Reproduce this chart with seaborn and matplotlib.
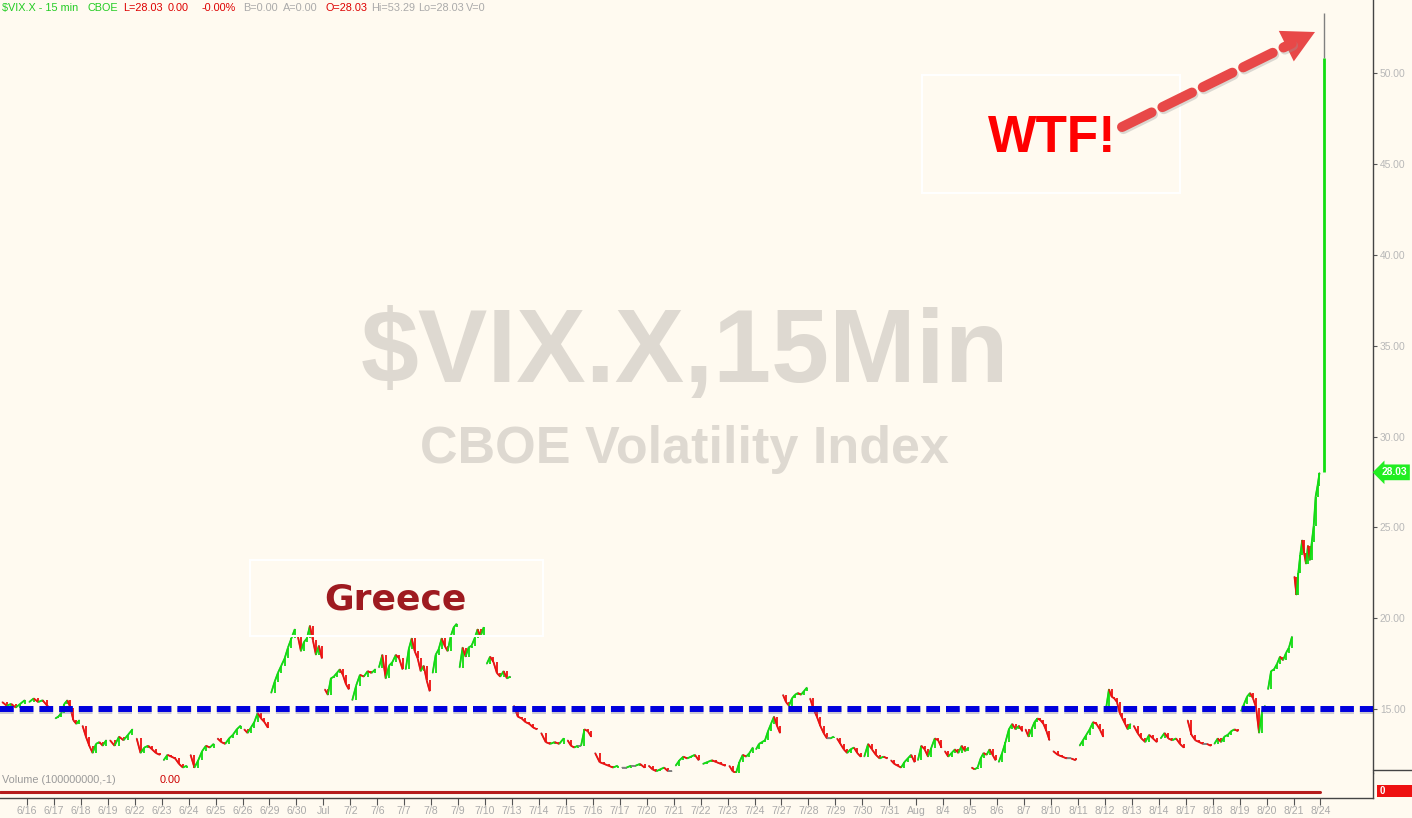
import matplotlib
matplotlib.use("Agg")
import matplotlib.pyplot as plt
import matplotlib.patheffects as pe
import numpy as np
import pandas as pd
import seaborn as sns
from matplotlib.collections import LineCollection
from matplotlib.lines import Line2D
from matplotlib.patches import Polygon, Rectangle
from matplotlib.ticker import FormatStrFormatter

# sessions on the axis, the first one (6/15) is the partial session at the left edge
day_labels = ["", "6/16", "6/17", "6/18", "6/19", "6/22", "6/23", "6/24", "6/25", "6/26",
              "6/29", "6/30", "Jul", "7/2", "7/6", "7/7", "7/8", "7/9", "7/10", "7/13",
              "7/14", "7/15", "7/16", "7/17", "7/20", "7/21", "7/22", "7/23", "7/24",
              "7/27", "7/28", "7/29", "7/30", "7/31", "Aug", "8/4", "8/5", "8/6", "8/7",
              "8/10", "8/11", "8/12", "8/13", "8/14", "8/17", "8/18", "8/19", "8/20",
              "8/21", "8/24"]

# 15 min closes, one list per session (6/15 .. 8/21)
vix_sessions = [
    [15.4, 15.2, 15.3, 15.1, 15.3, 15.5],
    [15.4, 15.6, 15.4, 15.5, 15.2, 15.0],
    [14.5, 14.6, 14.8, 15.3, 15.5, 15.1, 14.4, 14.2, 14.4],
    [14.1, 13.5, 13.0, 12.6, 13.1, 13.2, 13.0, 13.3],
    [13.3, 13.0, 13.5, 13.3, 13.6, 13.9],
    [13.4, 12.6, 12.9, 13.0, 12.8, 12.6, 12.5],
    [12.2, 12.5, 12.4, 12.3, 12.0, 11.8, 11.9],
    [12.5, 11.8, 12.2, 12.7, 13.0, 12.9, 13.1],
    [13.4, 13.2, 13.1, 13.4, 13.6, 13.9, 14.1],
    [13.9, 13.7, 14.0, 14.3, 14.8, 14.5, 14.3, 14.0],
    [15.9, 16.5, 17.0, 17.4, 17.8, 18.4, 18.9, 19.4],
    [19.0, 18.2, 18.7, 18.9, 19.6, 18.8, 18.0, 18.5, 17.8],
    [16.1, 15.8, 16.7, 16.8, 17.0, 17.2, 16.9, 16.4, 16.1],
    [15.5, 16.3, 16.9, 16.8, 17.1, 17.0, 17.2],
    [17.3, 18.0, 16.7, 17.4, 17.6, 18.0, 17.8, 17.2],
    [17.2, 18.3, 18.9, 18.2, 17.8, 17.1, 17.4, 16.6, 16.0],
    [17.0, 18.0, 18.3, 18.9, 18.5, 18.2, 19.0, 19.5, 19.7],
    [17.3, 18.4, 17.9, 18.4, 18.5, 18.9, 19.4, 19.0, 19.5],
    [17.5, 17.9, 17.6, 17.0, 16.8, 17.1, 16.7, 16.8],
    [15.2, 14.6, 14.5, 14.3, 14.2, 14.0, 13.9],
    [13.7, 13.2, 13.1, 13.2, 13.1, 13.4],
    [13.3, 13.0, 12.9, 13.0, 13.0, 13.9, 13.8, 13.5],
    [12.6, 12.1, 12.0, 11.9, 11.8, 11.9],
    [11.8, 11.8, 11.9, 11.9, 12.0, 11.8],
    [11.9, 11.7, 11.6, 11.7, 11.8, 11.6, 11.6],
    [11.9, 12.2, 12.4, 12.3, 12.4, 12.5, 12.2],
    [12.0, 12.1, 12.2, 12.1, 12.0, 11.9],
    [11.9, 11.6, 11.5, 12.1, 12.5, 12.4, 12.6, 12.9],
    [12.8, 13.1, 13.2, 13.3, 13.8, 14.2, 14.6, 14.1, 13.7],
    [15.8, 15.4, 15.2, 15.6, 15.8, 15.9, 15.8, 16.0, 16.2],
    [15.6, 15.0, 14.6, 14.1, 13.7, 13.4, 13.4, 13.5],
    [13.4, 13.1, 12.8, 12.6, 12.8, 12.9, 12.6, 12.4],
    [12.4, 13.1, 12.8, 12.5, 12.3, 12.4, 12.3],
    [12.2, 12.0, 11.9, 11.8, 12.1, 12.3, 12.5, 12.1],
    [12.2, 13.0, 12.8, 12.4, 12.9, 13.4, 13.3, 12.9],
    [12.7, 12.4, 12.6, 12.8, 12.6, 13.0, 12.7, 12.9],
    [11.8, 11.7, 11.8, 12.3, 12.6, 12.5, 12.8, 12.5, 12.2],
    [12.1, 12.6, 13.2, 13.9, 14.2, 13.9, 14.1, 13.8],
    [13.9, 13.5, 13.9, 14.3, 14.5, 14.4, 14.2, 13.8, 13.3],
    [12.7, 12.5, 12.4, 12.3, 12.3, 12.2],
    [13.0, 13.3, 13.6, 13.9, 14.3, 14.2, 13.9, 13.5],
    [15.1, 16.1, 15.7, 15.6, 15.4, 14.8, 14.5, 14.2, 13.9, 14.2],
    [14.1, 13.7, 13.4, 13.2, 13.6, 13.4, 13.2],
    [13.4, 13.7, 13.4, 13.3, 13.4, 13.1, 12.9],
    [14.4, 13.6, 13.3, 13.2, 13.1, 13.1, 13.0],
    [13.1, 13.4, 13.2, 13.5, 13.6, 13.8, 13.9, 13.8],
    [14.9, 15.3, 15.7, 15.9, 15.6, 15.1, 13.7, 14.9, 15.2],
    [16.1, 17.1, 17.2, 17.5, 17.9, 17.7, 18.1, 18.4, 19.0],
    [22.3, 21.3, 22.5, 23.5, 24.3, 23.6, 23.0, 24.0, 23.2, 24.2, 25.1, 26.7, 27.3, 28.0],
]

# the 8/24 opening bar
last_open = 28.03
last_close = 50.8
last_high = 53.29
last_value = 28.03

support_level = 15.0
volume = [0.0] * len(day_labels)
ytick_values = [15, 20, 25, 30, 35, 40, 45, 50]

header = [("$VIX.X - 15 min", 2, "#22cc22"), ("CBOE", 87, "#22cc22"),
          ("L=28.03", 123, "#dd0000"), ("0.00", 168, "#dd0000"),
          ("-0.00%", 202, "#dd0000"), ("B=0.00", 243, "#aaaaaa"),
          ("A=0.00", 283, "#aaaaaa"), ("O=28.03", 325, "#dd0000"),
          ("Hi=53.29", 371, "#aaaaaa"), ("Lo=28.03", 418, "#aaaaaa"),
          ("V=0", 466, "#aaaaaa")]

BG = "#fffaf0"
GREEN = "#11dd11"
RED = "#ee1111"
GREY = "#808080"

sns.set_theme(style="white", rc={"axes.facecolor": BG, "figure.facecolor": BG})
plt.rcParams["font.family"] = ["Liberation Sans", "DejaVu Sans"]

W, H = 1412, 818


def fx(px):
    return px / W


def fy(py):
    return 1 - py / H


rows = []
for i, closes in enumerate(vix_sessions):
    d = i - 1
    n = len(closes)
    for k, v in enumerate(closes):
        rows.append((d, d + (k + 0.5) / n, v))
df = pd.DataFrame(rows, columns=["day", "x", "vix"])

fig = plt.figure(figsize=(W / 100, H / 100), dpi=100)
ax = fig.add_axes([0, fy(773), fx(1373), 773 / H])
axv = fig.add_axes([0, fy(798), fx(1373), 25 / H], sharex=ax)

# watermark
ax.text(fx(685), fy(356), "$VIX.X,15Min", transform=fig.transFigure, ha="center",
        va="center", fontsize=75, fontweight="bold", color="#ded9d1", zorder=0)
ax.text(fx(684), fy(449), "CBOE Volatility Index", transform=fig.transFigure,
        ha="center", va="center", fontsize=37.5, fontweight="bold", color="#ded9d1",
        zorder=0)

# price: grey base line, then up / down segments coloured like candles
sns.lineplot(data=df, x="x", y="vix", units="day", estimator=None, color=GREY,
             lw=1.0, ax=ax, zorder=2)
segs, cols = [], []
for d, g in df.groupby("day"):
    xs = g["x"].values
    vs = g["vix"].values
    for k in range(1, len(vs)):
        segs.append([(xs[k - 1], vs[k - 1]), (xs[k], vs[k])])
        diff = vs[k] - vs[k - 1]
        cols.append(GREEN if diff > 0.05 else (RED if diff < -0.05 else GREY))
    ax.vlines(xs[1:], np.minimum(vs[:-1], vs[1:]), np.maximum(vs[:-1], vs[1:]),
              colors=[c for c in cols[-(len(vs) - 1):]], lw=1.3, zorder=3)
ax.add_collection(LineCollection(segs, colors=cols, lw=1.3, zorder=3))
last_x = len(vix_sessions) - 1 + 0.15
ax.vlines(last_x, last_close, last_high, colors=GREY, lw=1.0, zorder=3)
ax.vlines(last_x, last_open, last_close, colors=GREEN, lw=2.0, zorder=3)

# blue dashed level
ax.axhline(support_level, color="#0000dd", lw=4.3, dashes=(2.3, 1.0), zorder=4,
           path_effects=[pe.SimpleLineShadow(offset=(0, -1.5), shadow_color="#7070a0",
                                             alpha=0.35), pe.Normal()])

ax.set_xlim(-1.0, 49.95)
ax.set_ylim(11.5, 54.0)
ax.set_xlabel("")
ax.set_ylabel("")
ax.yaxis.tick_right()
ax.set_yticks(ytick_values)
ax.yaxis.set_major_formatter(FormatStrFormatter("%.2f"))
ax.tick_params(axis="y", which="both", right=True, length=3, width=0.8, color="#555555",
               labelsize=7.4, labelcolor="#b8b8b8", pad=2)
ax.tick_params(axis="x", bottom=False, labelbottom=False)
for s in ["top", "left", "bottom"]:
    ax.spines[s].set_visible(False)
ax.spines["right"].set_color("#444444")
ax.spines["right"].set_linewidth(1.0)

# last value tag
ax.annotate(f"{last_value:.2f}", xy=(1.0, last_value), xycoords=("axes fraction", "data"),
            xytext=(6, 0), textcoords="offset points", ha="left", va="center",
            fontsize=7.4, fontweight="bold", color="white",
            bbox=dict(boxstyle="larrow,pad=0.28", fc="#22ee22", ec="none"))

# volume panel
sns.lineplot(x=list(range(-1, len(day_labels) - 1)), y=volume, color="#b51c1c", lw=2.2,
             ax=axv)
axv.set_ylim(-0.3, 0.95)
axv.set_yticks([])
axv.set_xticks(range(0, len(day_labels) - 1))
axv.set_xticklabels(day_labels[1:])
axv.tick_params(axis="x", bottom=True, length=5, width=0.8, color="#555555",
                labelsize=7.6, labelcolor="#aaaaaa", pad=0.5, direction="out")
for s in ["top", "left"]:
    axv.spines[s].set_visible(False)
axv.spines["bottom"].set_color("#444444")
axv.spines["bottom"].set_linewidth(1.0)
axv.spines["right"].set_color("#444444")
axv.spines["right"].set_linewidth(1.0)
axv.set_xlabel("")
axv.set_ylabel("")
axv.set_xlim(-1.0, 49.95)

fig.text(fx(2), fy(780), "Volume (100000000,-1)", fontsize=7.8, color="#9a9a9a",
         va="center", ha="left")
fig.text(fx(160), fy(780), "0.00", fontsize=7.8, color="#cc0000", va="center", ha="left")
fig.add_artist(Line2D([fx(1373), 1], [fy(770), fy(770)], color="#444444", lw=1.0))
fig.add_artist(Rectangle((fx(1377), fy(797)), fx(35), 12 / H, transform=fig.transFigure,
                         fc="#ee1111", ec="none"))
fig.text(fx(1380), fy(791), "0", fontsize=7, fontweight="bold", color="white",
         va="center", ha="left")

# header line
for txt, xp, col in header:
    fig.text(fx(xp), fy(8), txt, fontsize=7.8, color=col, va="center", ha="left")

# annotation boxes
for (x0, y0, x1, y1) in [(250, 560, 543, 636), (922, 75, 1180, 193)]:
    fig.add_artist(Rectangle((fx(x0), fy(y1)), fx(x1 - x0), (y1 - y0) / H,
                             transform=fig.transFigure, fc="none", ec="white", lw=1.5))
fig.text(fx(395), fy(599), "Greece", fontsize=26, fontweight="bold", color="#9e1a20",
         family="DejaVu Sans", ha="center", va="center")
fig.text(fx(1052), fy(138), "WTF!", fontsize=37, fontweight="bold", color="#ff0000",
         ha="center", va="center")

# dashed red arrow
start = np.array([1122.0, 127.0])
tip = np.array([1315.0, 32.0])
u = (tip - start) / np.linalg.norm(tip - start)
nrm = np.array([-u[1], u[0]])
base = tip - 32 * u
shaft_end = tip - 26 * u
arrow_col = "#e84848"
fig.add_artist(Line2D([fx(start[0]), fx(shaft_end[0])], [fy(start[1]), fy(shaft_end[1])],
                      color=arrow_col, lw=7.2, dashes=(3.3, 1.2), solid_capstyle="round",
                      dash_capstyle="round",
                      path_effects=[pe.SimpleLineShadow(offset=(1, -1.5),
                                                        shadow_color="#999999", alpha=0.35),
                                    pe.Normal()]))
head = [tip, base + 17 * nrm, base - 17 * nrm]
fig.add_artist(Polygon([(fx(p[0]), fy(p[1])) for p in head], closed=True,
                       transform=fig.transFigure, fc=arrow_col, ec="none"))

fig.savefig("out.png", dpi=100, facecolor=BG)
